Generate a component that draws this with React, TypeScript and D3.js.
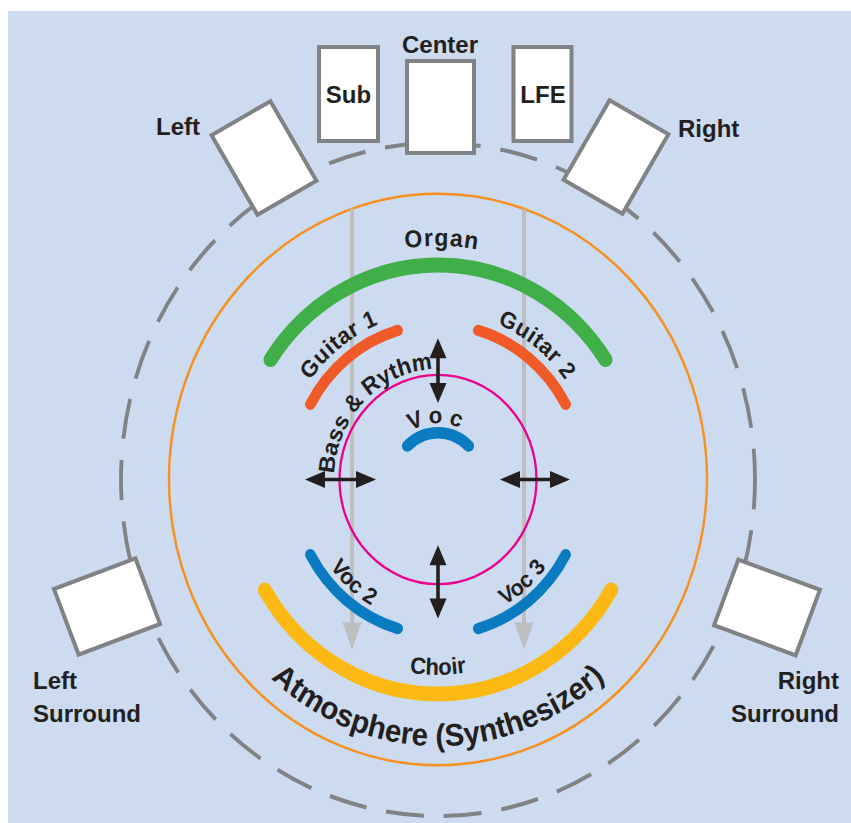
import React from "react";
import * as d3 from "d3";

// ---------- data ----------
const speakerNames = ["Left", "Sub", "Center", "LFE", "Right", "Left Surround", "Right Surround"];

const zoneNames = ["Listener", "Atmosphere", "Speakers"];
const zoneRadius = [98.5, 269, 317];

const instrumentNames = ["Organ", "Guitar 1", "Guitar 2", "Voc", "Voc 2", "Voc 3", "Choir"];
const instrumentRadius = [202, 146, 146, 44, 146, 146, 202];
const instrumentStart = [-56, -61, 16, -44, 196, 119, 121];
const instrumentEnd = [56, -16, 61, 44, 241, 164, 239];

const labelTexts = ["Organ", "Guitar 1", "Guitar 2", "Bass & Rythm", "Voc", "Voc 2", "Voc 3", "Choir", "Atmosphere (Synthesizer)"];
const labelRadius = [220, 158, 158, 104, 53, 136, 136, 184, 251];
const labelAngle = [1, -38, 38, -45, 0, 221, 139, 180, 180];

const moveArrowAngles = [0, 90, 180, -90];
const moveArrowInner = [72, 62, 62, 62];
const moveArrowOuter = [133, 132, 131, 133];

// ---------- layout & style ----------
const W = 851, H = 823;
const CX = 438, CY = 479.5, SY = 1.062;
const INK = "#231f20";
const FONT = "'Liberation Sans', Arial, Helvetica, sans-serif";

const instrumentColors = ["#40ae49", "#f05a28", "#f05a28", "#0b7bc1", "#0b7bc1", "#0b7bc1", "#fdb913"];
const instrumentWidths = [14, 10.5, 10.5, 11, 10.5, 10.5, 14];
const labelSizes = [23, 22, 22, 22.5, 22, 21.5, 21.5, 22, 29.5];
const labelSpacing = [1.2, 0.6, 0.6, 0, 6, 0, 0, 0, 0];

const speakerBoxes = [
  { cx: 264, cy: 158, w: 68, h: 92, rot: -30 },
  { cx: 348.5, cy: 94, w: 59, h: 94, rot: 0 },
  { cx: 440.5, cy: 107, w: 67, h: 92, rot: 0 },
  { cx: 542.5, cy: 94, w: 58, h: 94, rot: 0 },
  { cx: 616, cy: 157, w: 68, h: 92, rot: 30 },
  { cx: 107, cy: 606.5, w: 87, h: 70, rot: -20.6 },
  { cx: 767, cy: 607.5, w: 87, h: 70, rot: 20.3 },
];
const speakerLabelPos = [
  { x: 200, y: 135, anchor: "end" },
  { x: 348.5, y: 103, anchor: "middle" },
  { x: 440, y: 53, anchor: "middle" },
  { x: 543, y: 103, anchor: "middle" },
  { x: 678, y: 137, anchor: "start" },
  { x: 33, y: 689, anchor: "start" },
  { x: 839, y: 689, anchor: "end" },
];

const rad = (deg: number) => (deg * Math.PI) / 180;

function arcD(r: number, a0: number, a1: number) {
  const p = d3.path();
  p.arc(0, 0, r, rad(a0 - 90), rad(a1 - 90), a1 < a0);
  return p.toString();
}

function screenPt(r: number, a: number): [number, number] {
  return [CX + r * Math.sin(rad(a)), CY - r * Math.cos(rad(a)) * SY];
}

function DoubleArrow({ x1, y1, x2, y2, color, width, headLen, headW }: any) {
  const dx = x2 - x1, dy = y2 - y1;
  const L = Math.hypot(dx, dy);
  const ux = dx / L, uy = dy / L;
  const px = -uy, py = ux;
  const head = (tx: number, ty: number, sx: number, sy: number) => {
    const bx = tx - sx * headLen, by = ty - sy * headLen;
    return `M${tx},${ty}L${bx + px * headW / 2},${by + py * headW / 2}L${bx - px * headW / 2},${by - py * headW / 2}Z`;
  };
  return (
    <g>
      <line x1={x1 + ux * headLen * 0.8} y1={y1 + uy * headLen * 0.8} x2={x2 - ux * headLen * 0.8} y2={y2 - uy * headLen * 0.8} stroke={color} strokeWidth={width} />
      <path d={head(x2, y2, ux, uy)} fill={color} />
      <path d={head(x1, y1, -ux, -uy)} fill={color} />
    </g>
  );
}

export default function App() {
  const grayX = [-86, 86];
  const grayTipR = 160;
  const grayTopY = CY - SY * Math.sqrt(zoneRadius[1] ** 2 - 86 ** 2);
  const grayTipY = CY + grayTipR * SY;

  return (
    <svg width={W} height={H} style={{ position: "absolute", left: 0, top: 0, display: "block" }} fontFamily={FONT}>
      <rect x={8} y={11} width={W - 8} height={H - 11} fill="#ccdbef" />

      <g transform={`translate(${CX},${CY}) scale(1,${SY})`}>
        <circle r={zoneRadius[2]} fill="none" stroke="#808285" strokeWidth={3.8} strokeDasharray="38 20" strokeDashoffset={10} />
        <circle r={zoneRadius[1]} fill="none" stroke="#f7901e" strokeWidth={2.4} />
      </g>

      {grayX.map((gx, i) => (
        <g key={i}>
          <line x1={CX + gx} y1={grayTopY} x2={CX + gx} y2={grayTipY - 20} stroke="#bcbec0" strokeWidth={4} />
          <path d={`M${CX + gx},${grayTipY}L${CX + gx - 9.5},${grayTipY - 27}L${CX + gx + 9.5},${grayTipY - 27}Z`} fill="#bcbec0" />
        </g>
      ))}

      <g transform={`translate(${CX},${CY}) scale(1,${SY})`}>
        <circle r={zoneRadius[0]} fill="none" stroke="#ec008c" strokeWidth={2.3} />
        {instrumentNames.map((n, i) => (
          <path key={n} d={arcD(instrumentRadius[i], instrumentStart[i], instrumentEnd[i])} fill="none"
            stroke={instrumentColors[i]} strokeWidth={instrumentWidths[i]} strokeLinecap="round" />
        ))}
        <defs>
          {labelTexts.map((t, i) => {
            const a = labelAngle[i];
            const cw = Math.cos(rad(a)) >= 0;
            const a0 = cw ? a - 85 : a + 85;
            const a1 = cw ? a + 85 : a - 85;
            return <path key={t} id={`lp${i}`} d={arcD(labelRadius[i], a0, a1)} />;
          })}
        </defs>
        {labelTexts.map((t, i) => (
          <text key={t} fontSize={labelSizes[i]} fontWeight="bold" fill={INK} letterSpacing={labelSpacing[i]} textAnchor="middle">
            <textPath href={`#lp${i}`} startOffset="50%">{t}</textPath>
          </text>
        ))}
      </g>

      {moveArrowAngles.map((a, i) => {
        const [x1, y1] = screenPt(moveArrowInner[i], a);
        const [x2, y2] = screenPt(moveArrowOuter[i], a);
        return <DoubleArrow key={i} x1={x1} y1={y1} x2={x2} y2={y2} color={INK} width={3.6} headLen={20} headW={17} />;
      })}

      {speakerBoxes.map((b, i) => (
        <rect key={speakerNames[i]} x={-b.w / 2} y={-b.h / 2} width={b.w} height={b.h}
          transform={`translate(${b.cx},${b.cy}) rotate(${b.rot})`}
          fill="#ffffff" stroke="#808285" strokeWidth={4} />
      ))}
      {speakerNames.map((n, i) => {
        const p = speakerLabelPos[i];
        const parts = n.split(" ");
        return (
          <text key={n} x={p.x} y={p.y} textAnchor={p.anchor} fontSize={24} fontWeight="bold" fill={INK}>
            {parts.length > 1 && n.endsWith("Surround")
              ? parts.map((pt, j) => <tspan key={j} x={p.x} dy={j === 0 ? 0 : 33}>{pt}</tspan>)
              : n}
          </text>
        );
      })}
    </svg>
  );
}
